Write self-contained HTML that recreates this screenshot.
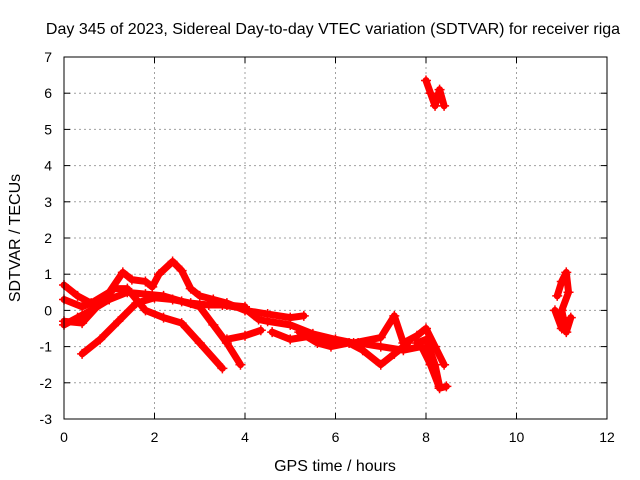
<!DOCTYPE html>
<html><head><meta charset="utf-8"><style>
html,body{margin:0;padding:0;background:#fff}
svg{display:block;font-family:"Liberation Sans",sans-serif}
</style></head><body>
<svg id="chart" width="640" height="480">
<rect width="640" height="480" fill="#fff"/>
<text x="333" y="34" font-size="16" text-anchor="middle">Day 345 of 2023, Sidereal Day-to-day VTEC variation (SDTVAR) for receiver riga</text>
<text x="335" y="471" font-size="16" text-anchor="middle">GPS time / hours</text>
<text transform="translate(20,238) rotate(-90)" font-size="16" text-anchor="middle">SDTVAR / TECUs</text>
<g id="grid"></g><g id="marks"></g>
<rect x="64" y="57" width="543" height="362" fill="none" stroke="#000" stroke-width="1"/>
</svg>
<script>
const xTicks=[0,2,4,6,8,10,12];
const yTicks=[-3,-2,-1,0,1,2,3,4,5,6,7];
const trackA=[[0,0.7],[0.3,0.4],[0.6,0.2],[1.0,0.5],[1.3,1.05],[1.5,0.85],[1.8,0.8],[1.95,0.65],[2.1,1.0],[2.4,1.35],[2.6,1.1],[2.8,0.6],[3.0,0.4],[3.3,0.3],[3.6,0.2],[4.0,0.0],[4.5,-0.1],[5.0,-0.2],[5.3,-0.15]];
const trackB=[[0,-0.4],[0.3,-0.2],[0.6,0.0],[1.0,0.3],[1.4,0.5],[1.8,0.45],[2.2,0.4],[2.6,0.25],[3.0,0.1],[3.3,-0.4],[3.6,-0.9],[3.9,-1.5]];
const trackC=[[0.4,-1.2],[0.8,-0.8],[1.2,-0.3],[1.6,0.2],[2.0,0.35],[2.4,0.3],[2.8,0.2],[3.2,0.15],[3.6,0.15],[4.0,0.1]];
const trackD=[[0,-0.3],[0.4,-0.35],[0.8,0.2],[1.1,0.6],[1.4,0.6],[1.8,0.0],[2.2,-0.2],[2.6,-0.35],[3.0,-0.9],[3.5,-1.6]];
const trackE=[[0,0.3],[0.4,0.1],[0.8,0.3],[1.0,0.5]];
const trackF=[[3.6,-0.8],[4.0,-0.7],[4.35,-0.55]];
const trackG=[[3.5,0.15],[4.0,0.05],[4.3,-0.25],[4.5,-0.3],[5.0,-0.4],[5.5,-0.65],[6.0,-0.8],[6.4,-0.9],[7.0,-0.75],[7.3,-0.15],[7.5,-0.9],[7.8,-0.7],[8.0,-0.5],[8.2,-1.0],[8.4,-1.5]];
const trackH=[[4.6,-0.6],[5.0,-0.8],[5.5,-0.7],[6.0,-0.9],[6.5,-0.9],[7.0,-1.0],[7.5,-1.1],[7.9,-1.0],[8.1,-1.5],[8.3,-2.15],[8.45,-2.1]];
const trackI=[[5.2,-0.6],[5.6,-0.9],[5.9,-1.0],[6.3,-0.9],[6.6,-1.1],[7.0,-1.5],[7.3,-1.2],[7.6,-0.9]];
const trackJ=[[7.8,-0.9],[8.0,-0.8],[8.2,-1.5],[8.3,-2.1]];
const trackK=[[8.0,6.35],[8.1,6.0],[8.2,5.65],[8.3,6.1],[8.4,5.65]];
const trackL=[[10.9,0.4],[11.0,0.8],[11.1,1.05],[11.15,0.5],[11.0,0.0],[11.1,-0.6],[11.2,-0.2]];
const trackM=[[10.85,0.0],[11.0,-0.5]];
const tracks=[trackA,trackB,trackC,trackD,trackE,trackF,trackG,trackH,trackI,trackJ,trackK,trackL,trackM];
const X=v=>64+v*543/12;
const Y=v=>419-(v+3)*362/10;
const NS="http://www.w3.org/2000/svg";
const grid=document.getElementById('grid');
const marks=document.getElementById('marks');
function mk(tag,attrs,parent){const e=document.createElementNS(NS,tag);for(const k in attrs)e.setAttribute(k,attrs[k]);parent.appendChild(e);return e;}
xTicks.forEach(t=>{
  const x=X(t);
  if(t>0&&t<12){const g=mk('line',{x1:x,x2:x,y1:57,y2:419,stroke:'#a0a0a0','stroke-dasharray':'2,3'},grid);
  
  }
  mk('line',{x1:x,x2:x,y1:419,y2:413,stroke:'#000'},grid);
  mk('line',{x1:x,x2:x,y1:57,y2:63,stroke:'#000'},grid);
  const l=mk('text',{x:x,y:442,'font-size':14,'text-anchor':'middle'},grid);l.textContent=t;
  
  
});
yTicks.forEach(t=>{
  const y=Y(t);
  if(t>-3&&t<7){const g=mk('line',{x1:64,x2:607,y1:y,y2:y,stroke:'#a0a0a0','stroke-dasharray':'2,3'},grid);
  
  }
  mk('line',{x1:64,x2:70,y1:y,y2:y,stroke:'#000'},grid);
  mk('line',{x1:607,x2:601,y1:y,y2:y,stroke:'#000'},grid);
  const l=mk('text',{x:52,y:y+5,'font-size':14,'text-anchor':'end'},grid);l.textContent=t;
  
  
});
tracks.forEach(tr=>{
  const pts=tr.map(p=>X(p[0])+','+Y(p[1])).join(' ');
  const pl=mk('polyline',{points:pts,fill:'none',stroke:'#f00','stroke-width':7,'stroke-linejoin':'round','stroke-linecap':'round'},marks);
  
  
  tr.forEach(p=>{
    const x=X(p[0]),y=Y(p[1]);
    const m=mk('path',{d:`M${x-5},${y}H${x+5}M${x},${y-5}V${y+5}`,stroke:'#f00','stroke-width':1.5},marks);
    
    
  });
});
</script>
</body></html>
